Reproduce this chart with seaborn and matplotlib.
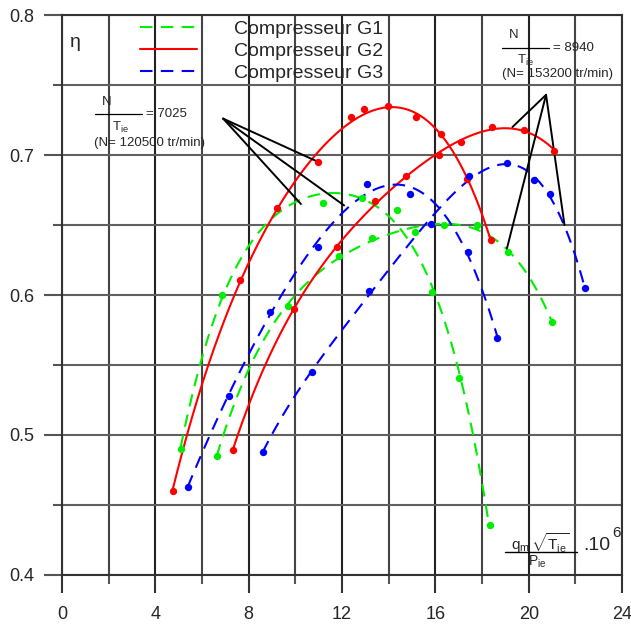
import numpy as np
import matplotlib
matplotlib.use("Agg")
import matplotlib.pyplot as plt
from matplotlib.lines import Line2D
import seaborn as sns

# Compresseur G1 (green) - two speed lines
g1_a_x = [5.09, 6.84, 11.20, 12.87, 14.37, 15.84, 17.00, 18.32]
g1_a_y = [0.490, 0.600, 0.666, 0.669, 0.661, 0.602, 0.541, 0.436]
g1_b_x = [6.63, 9.67, 11.89, 13.30, 15.14, 16.37, 17.77, 19.10, 20.99]
g1_b_y = [0.485, 0.592, 0.628, 0.641, 0.645, 0.650, 0.650, 0.631, 0.581]

# Compresseur G2 (red)
g2_a_x = [4.74, 7.63, 9.23, 10.99, 12.37, 12.96, 13.99, 15.17, 16.24, 17.34, 18.39]
g2_a_y = [0.460, 0.611, 0.662, 0.695, 0.727, 0.733, 0.735, 0.727, 0.715, 0.683, 0.639]
g2_b_x = [7.31, 9.96, 11.77, 13.42, 14.73, 16.16, 17.10, 18.44, 19.80, 21.09]
g2_b_y = [0.489, 0.590, 0.634, 0.667, 0.685, 0.700, 0.709, 0.720, 0.718, 0.703]

# Compresseur G3 (blue)
g3_a_x = [5.39, 7.14, 8.92, 10.96, 13.06, 14.92, 17.39, 18.66]
g3_a_y = [0.463, 0.528, 0.588, 0.634, 0.679, 0.672, 0.631, 0.569]
g3_b_x = [8.60, 10.73, 13.17, 15.80, 17.44, 19.06, 20.21, 20.92, 22.40]
g3_b_y = [0.488, 0.545, 0.603, 0.651, 0.685, 0.694, 0.682, 0.672, 0.605]

labels = ["Compresseur G1", "Compresseur G2", "Compresseur G3"]
colors = ["#00ee00", "#ff0000", "#0000ff"]

sns.set_style("white")
plt.rcParams["font.family"] = ["Liberation Sans", "DejaVu Sans"]
plt.rcParams["mathtext.fontset"] = "custom"
plt.rcParams["mathtext.rm"] = "Liberation Sans"
plt.rcParams["mathtext.it"] = "Liberation Sans"

fig = plt.figure(figsize=(6.31, 6.26), dpi=100)
ax = fig.add_axes([0.098, 0.0815, 0.888, 0.8945])

dash = (6, 4)
series = [
    (g1_a_x, g1_a_y, colors[0], dash),
    (g1_b_x, g1_b_y, colors[0], dash),
    (g2_a_x, g2_a_y, colors[1], None),
    (g2_b_x, g2_b_y, colors[1], None),
    (g3_a_x, g3_a_y, colors[2], dash),
    (g3_b_x, g3_b_y, colors[2], dash),
]
for xs, ys, c, d in series:
    lk = {"lw": 1.5}
    if d is not None:
        lk["dashes"] = d
    sns.regplot(x=np.array(xs), y=np.array(ys), order=4, ci=None, color=c,
                scatter_kws={"s": 28, "alpha": 1, "zorder": 4, "linewidths": 0},
                line_kws=lk, ax=ax)

ax.set_xlim(0, 24)
ax.set_ylim(0.4, 0.8)
ax.set_xlabel("")
ax.set_ylabel("")

# grid + ticks
ax.set_xticks(np.arange(0, 25, 4))
ax.set_xticks(np.arange(2, 24, 4), minor=True)
ax.set_yticks([0.4, 0.5, 0.6, 0.7, 0.8])
ax.set_yticklabels(["0.4", "0.5", "0.6", "0.7", "0.8"])
ax.set_yticks(np.arange(0.45, 0.8, 0.1), minor=True)
ax.tick_params(axis="x", which="major", length=13, width=1.5, color="#333333",
               labelsize=13, pad=9, direction="out", bottom=True)
ax.tick_params(axis="x", which="minor", length=6.5, width=1.5, color="#555555",
               direction="out", bottom=True)
ax.tick_params(axis="y", which="major", length=13, width=1.5, color="#555555",
               labelsize=13, pad=7, direction="out", left=True)
ax.tick_params(axis="y", which="minor", length=6.5, width=1.5, color="#555555",
               direction="out", left=True)
ax.grid(True, axis="x", which="major", color="#222222", lw=1.5)
ax.grid(True, axis="x", which="minor", color="#444444", lw=1.5)
ax.grid(True, axis="y", which="both", color="#606060", lw=1.5)
ax.set_axisbelow(True)
for s in ax.spines.values():
    s.set_color("#333333")
    s.set_linewidth(1.5)

# legend
handles = [
    Line2D([], [], color=colors[0], lw=1.5, dashes=dash),
    Line2D([], [], color=colors[1], lw=1.5),
    Line2D([], [], color=colors[2], lw=1.5, dashes=dash),
]
ax.legend(handles, labels, loc="upper left", bbox_to_anchor=(0.14, 0.99),
          frameon=False, fontsize=14, handlelength=2.9, handletextpad=1.9,
          labelspacing=0.22, borderpad=0.0, borderaxespad=0.0)

ax.text(0.56, 0.7807, "η", fontsize=14, ha="center", va="center")

# speed annotations
small = 9.5
ax.text(1.93, 0.7379, "N", fontsize=small, ha="center", va="center")
ax.plot([1.41, 3.43], [0.7293, 0.7293], color="k", lw=0.9)
ax.text(3.60, 0.7293, "= 7025", fontsize=small, ha="left", va="center")
ax.text(2.53, 0.7200, r"T$_\mathregular{ie}$", fontsize=small, ha="center", va="center")
ax.text(3.77, 0.7086, "(N= 120500 tr/min)", fontsize=small, ha="center", va="center")

ax.text(19.37, 0.7857, "N", fontsize=small, ha="center", va="center")
ax.plot([18.86, 20.87], [0.7766, 0.7766], color="k", lw=0.9)
ax.text(21.05, 0.7766, "= 8940", fontsize=small, ha="left", va="center")
ax.text(19.85, 0.7679, r"T$_\mathregular{ie}$", fontsize=small, ha="center", va="center")
ax.text(21.22, 0.7579, "(N= 153200 tr/min)", fontsize=small, ha="center", va="center")

left_anchor = (6.91, 0.726)
left_ends = [(10.99, 0.695), (10.24, 0.665), (12.09, 0.664)]
right_anchor = (20.74, 0.743)
right_ends = [(19.30, 0.720), (19.06, 0.633), (21.53, 0.650)]
for anchor, ends in [(left_anchor, left_ends), (right_anchor, right_ends)]:
    for e in ends:
        ax.annotate("", xy=e, xytext=anchor,
                    arrowprops=dict(arrowstyle="-", color="k", lw=1.4,
                                    shrinkA=0, shrinkB=0))

# x quantity label
ax.text(20.5, 0.4225, r"$\mathregular{q_m\,\sqrt{T_{ie}}}$", fontsize=11,
        ha="center", va="center")
ax.plot([18.99, 22.07], [0.4166, 0.4166], color="k", lw=1.0)
ax.text(20.36, 0.4093, r"P$_\mathregular{ie}$", fontsize=10, ha="center", va="center")
ax.text(22.35, 0.4214, ".10", fontsize=14, ha="left", va="center")
ax.text(23.75, 0.4300, "6", fontsize=11, ha="center", va="center")

fig.savefig("out.png", dpi=100)
